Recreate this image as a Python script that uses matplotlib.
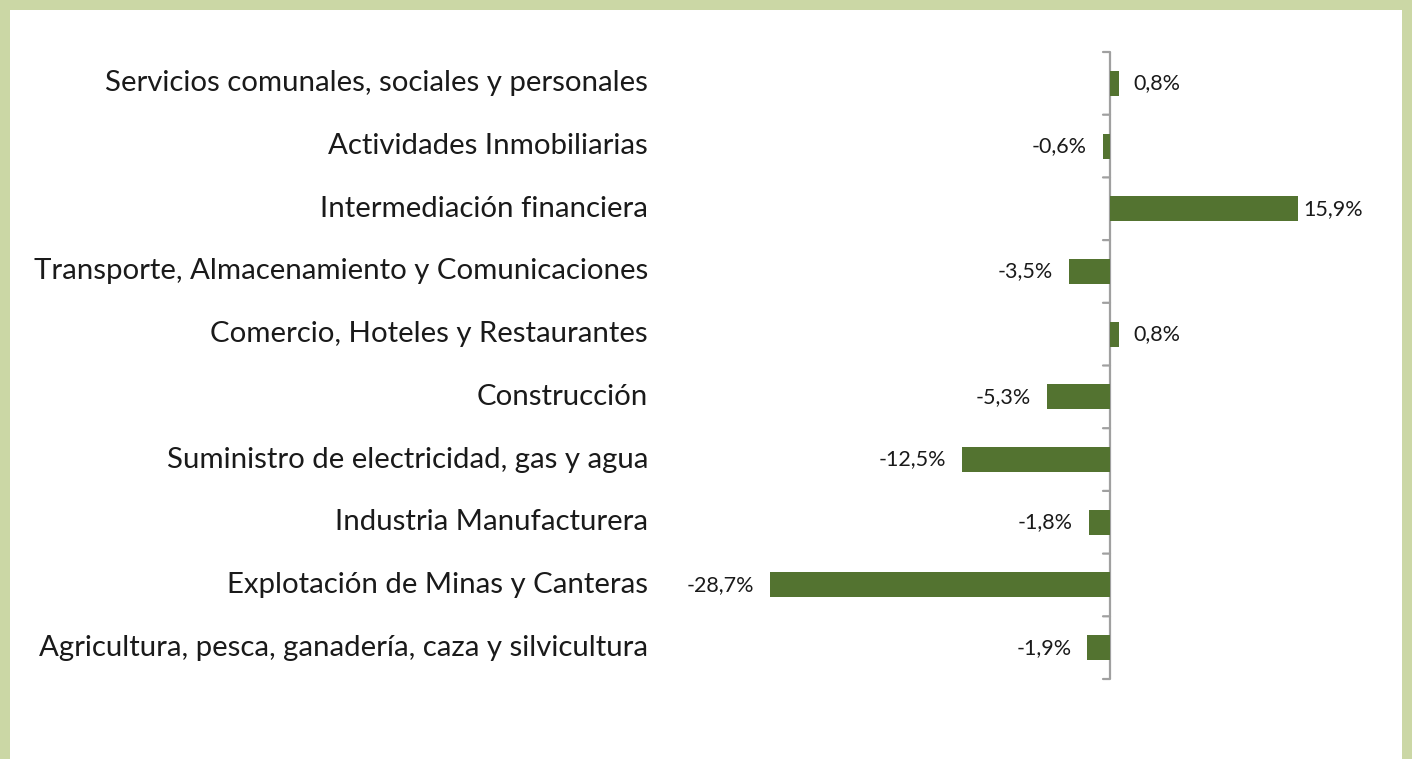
import matplotlib.pyplot as plt
from matplotlib.patches import Rectangle
from matplotlib.transforms import blended_transform_factory

# Sectores (de abajo hacia arriba) y variación porcentual
sectores = [
    "Agricultura, pesca, ganadería, caza y silvicultura",
    "Explotación de Minas y Canteras",
    "Industria Manufacturera",
    "Suministro de electricidad, gas y agua",
    "Construcción",
    "Comercio, Hoteles y Restaurantes",
    "Transporte, Almacenamiento y Comunicaciones",
    "Intermediación financiera",
    "Actividades Inmobiliarias",
    "Servicios comunales, sociales y personales",
]
variacion = [-1.9, -28.7, -1.8, -12.5, -5.3, 0.8, -3.5, 15.9, -0.6, 0.8]

verde = "#537330"
borde = "#cbd7a5"
gris = "#a0a0a0"

W, H = 1412, 759
fig = plt.figure(figsize=(W / 100, H / 100), dpi=100)
fig.patch.set_facecolor(borde)
# fondo blanco dentro del marco
fig.patches.append(Rectangle((10 / W, 0), (1402 - 10) / W, (H - 10) / H,
                             transform=fig.transFigure, facecolor="white",
                             edgecolor="none", zorder=-1))

x0, x1 = -30, 24
ppu = 11.85
left = 1110 - (0 - x0) * ppu
right = 1110 + (x1 - 0) * ppu
ax = fig.add_axes([left / W, (H - 679) / H, (right - left) / W, (679 - 52) / H])
ax.set_facecolor("none")
ax.set_zorder(2)

y = list(range(len(sectores)))
ax.barh(y, variacion, height=0.4, color=verde, zorder=3)
ax.set_xlim(x0, x1)
ax.set_ylim(-0.5, len(sectores) - 0.5)

for s in ["top", "right", "bottom", "left"]:
    ax.spines[s].set_visible(False)
ax.axvline(0, color=gris, lw=1.6, zorder=2)
ax.set_xticks([])
ax.set_yticks([])

# marcas entre categorías
for b in [i - 0.5 for i in range(len(sectores) + 1)]:
    ax.annotate("", xy=(0, b), xytext=(-7, 0), textcoords="offset pixels",
                xycoords="data", annotation_clip=False,
                arrowprops=dict(arrowstyle="-", color=gris, lw=1.6,
                                shrinkA=0, shrinkB=0))

# nombres de sectores
trans = blended_transform_factory(fig.transFigure, ax.transData)
for yi, nombre in zip(y, sectores):
    fig.text(648 / W, yi, nombre, transform=trans, ha="right", va="center",
             fontsize=21.2, family="Lato", color="#1a1a1a", zorder=3)

# etiquetas de valor
for yi, v in zip(y, variacion):
    txt = f"{v:.1f}%".replace(".", ",")
    off = 14 if v >= 0 else -16
    if v > 10:
        off = 5
    ax.annotate(txt, xy=(v, yi), xytext=(off, 0), textcoords="offset pixels",
                ha="left" if v >= 0 else "right", va="center",
                fontsize=15.5, family="Lato", color="#1a1a1a")

fig.savefig("out.png", dpi=100, facecolor=fig.get_facecolor())
